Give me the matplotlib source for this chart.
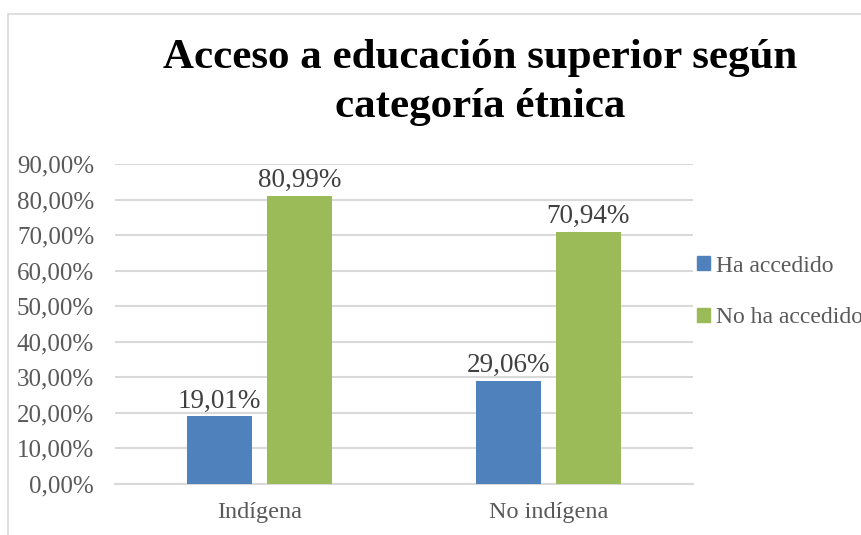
import matplotlib.pyplot as plt
import matplotlib.patches as mpatches
import numpy as np

categories = ["Indígena", "No indígena"]
series_names = ["Ha accedido", "No ha accedido"]
ha_accedido = [19.01, 29.06]
no_ha_accedido = [80.99, 70.94]
y_ticks = [0, 10, 20, 30, 40, 50, 60, 70, 80, 90]

blue = "#4f81bd"
green = "#9bbb59"
W, H = 862, 535

plt.rcParams['font.family'] = ['Liberation Serif', 'DejaVu Serif']

fig = plt.figure(figsize=(W / 100, H / 100), dpi=100)
fig.patch.set_facecolor("white")

# chart border (cropped on right/bottom)
fig.add_artist(mpatches.Rectangle((8 / W, -0.1), 1.2, 1 - 14 / H + 0.1,
                                  transform=fig.transFigure, fill=False,
                                  edgecolor="#d9d9d9", linewidth=1.2))

ax = fig.add_axes([115 / W, 1 - 484 / H, (693 - 115) / W, (484 - 164) / H])

x = np.arange(len(categories))
bw = 0.225
off = 0.138
b1 = ax.bar(x - off, ha_accedido, bw, color=blue, label=series_names[0], zorder=3)
b2 = ax.bar(x + off, no_ha_accedido, bw, color=green, label=series_names[1], zorder=3)

for bars, vals in ((b1, ha_accedido), (b2, no_ha_accedido)):
    for r, v in zip(bars, vals):
        ax.annotate(("%.2f%%" % v).replace(".", ","),
                    (r.get_x() + r.get_width() / 2, v),
                    xytext=(0, 2), textcoords="offset points",
                    ha="center", va="bottom", fontsize=19.5, color="#404040")

ax.set_xlim(-0.5, 1.5)
ax.set_ylim(0, 90)
ax.set_yticks(y_ticks)
ax.set_yticklabels([("%.2f%%" % t).replace(".", ",") for t in y_ticks])
ax.set_xticks(x)
ax.set_xticklabels(categories)
ax.tick_params(axis="both", length=0, labelcolor="#595959")
ax.tick_params(axis="y", pad=15, labelsize=18)
ax.tick_params(axis="x", pad=13, labelsize=17.5)
ax.yaxis.grid(True, color="#d9d9d9", linewidth=1.5, zorder=0)
for s in ("top", "right", "left"):
    ax.spines[s].set_visible(False)
ax.spines["bottom"].set_color("#d9d9d9")
ax.spines["bottom"].set_linewidth(1.5)

fig.text(480 / W, 1 - 58 / H, "Acceso a educación superior según",
         ha="center", va="center", fontsize=31, fontweight="bold", color="black")
fig.text(480 / W, 1 - 107 / H, "categoría étnica",
         ha="center", va="center", fontsize=31, fontweight="bold", color="black")

leg = fig.legend(handles=[mpatches.Patch(color=blue, label=series_names[0]),
                          mpatches.Patch(color=green, label=series_names[1])],
                 loc="center left", bbox_to_anchor=(697 / W, 1 - 292 / H),
                 frameon=False, fontsize=17, handlelength=0.55, handleheight=0.55,
                 handletextpad=0.25, labelspacing=1.3, borderaxespad=0,
                 borderpad=0)
for t in leg.get_texts():
    t.set_color("#595959")

fig.savefig("out.png", dpi=100, facecolor="white")
